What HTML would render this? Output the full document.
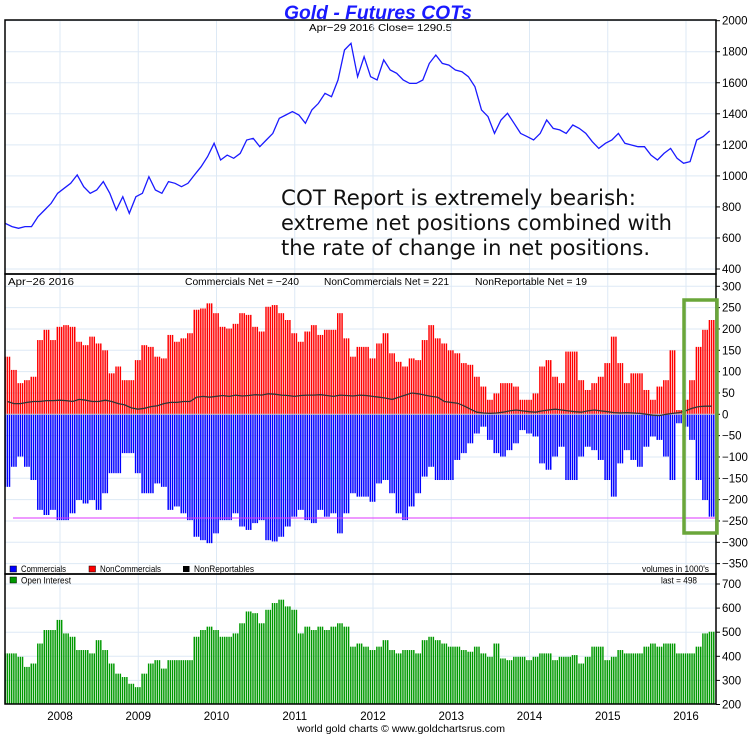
<!DOCTYPE html>
<html><head><meta charset="utf-8"><style>
body{margin:0;background:#fff;}
svg{display:block;font-family:"Liberation Sans",sans-serif;}
</style></head><body>
<svg id="chart" width="751" height="739" viewBox="0 0 751 739" xmlns="http://www.w3.org/2000/svg">
<text x="284" y="19" font-size="19" font-weight="bold" font-style="italic" fill="#1a1aff" textLength="188" lengthAdjust="spacingAndGlyphs">Gold - Futures COTs</text>
<text x="309" y="31" font-size="10.5" textLength="143" lengthAdjust="spacingAndGlyphs">Apr−29  2016    Close= 1290.5</text>
<g id="grid"></g>
<g id="marks"></g>
<g id="frame"></g>
<g id="labels"></g>
<text x="281" y="205" font-size="21" fill="#111" textLength="355" lengthAdjust="spacingAndGlyphs" font-family="DejaVu Sans Condensed, DejaVu Sans, sans-serif">COT Report is extremely bearish:</text>
<text x="281" y="230" font-size="21" fill="#111" textLength="391" lengthAdjust="spacingAndGlyphs" font-family="DejaVu Sans Condensed, DejaVu Sans, sans-serif">extreme net positions combined with</text>
<text x="281" y="255" font-size="21" fill="#111" textLength="369" lengthAdjust="spacingAndGlyphs" font-family="DejaVu Sans Condensed, DejaVu Sans, sans-serif">the rate of change in net positions.</text>
<text x="8" y="285" font-size="10.5" textLength="66" lengthAdjust="spacingAndGlyphs">Apr−26  2016</text>
<text x="185" y="285" font-size="10.5" textLength="114" lengthAdjust="spacingAndGlyphs">Commercials Net = −240</text>
<text x="324" y="285" font-size="10.5" textLength="125" lengthAdjust="spacingAndGlyphs">NonCommercials Net = 221</text>
<text x="475" y="285" font-size="10.5" textLength="112" lengthAdjust="spacingAndGlyphs">NonReportable Net = 19</text>
<g>
<rect x="10" y="566" width="6.5" height="6" fill="#0000ff" stroke="#000" stroke-width="0.5"/>
<text x="21" y="572" font-size="9.5" textLength="45" lengthAdjust="spacingAndGlyphs">Commercials</text>
<rect x="89" y="566" width="6.5" height="6" fill="#ff0000" stroke="#000" stroke-width="0.5"/>
<text x="100" y="572" font-size="9.5" textLength="61" lengthAdjust="spacingAndGlyphs">NonCommercials</text>
<rect x="183" y="566" width="6.5" height="6" fill="#000"/>
<text x="194" y="572" font-size="9.5" textLength="60" lengthAdjust="spacingAndGlyphs">NonReportables</text>
<text x="642" y="572" font-size="9.5" textLength="67" lengthAdjust="spacingAndGlyphs">volumes in 1000's</text>
</g>
<rect x="10" y="577" width="6.5" height="6" fill="#009900" stroke="#000" stroke-width="0.5"/>
<text x="21" y="583.5" font-size="9.5" textLength="50" lengthAdjust="spacingAndGlyphs">Open Interest</text>
<text x="661" y="583.5" font-size="9.5" textLength="36" lengthAdjust="spacingAndGlyphs">last = 498</text>
<text x="297" y="732" font-size="10.5" textLength="208" lengthAdjust="spacingAndGlyphs">world gold charts © www.goldchartsrus.com</text>
</svg>
<script>
// Monthly data, Apr 2007 .. Apr 2016 (109 months)
const startYear = 2007.29;
const priceValues = [694,673,662,673,673,737,780,823,888,920,952,1006,930,888,909,963,888,780,866,759,866,888,995,909,888,963,952,930,952,1006,1059,1124,1210,1102,1134,1113,1145,1231,1242,1188,1231,1274,1371,1392,1414,1392,1339,1425,1467,1532,1510,1618,1811,1854,1639,1768,1639,1618,1747,1682,1661,1618,1596,1596,1618,1725,1779,1725,1714,1682,1671,1639,1575,1425,1382,1274,1360,1403,1339,1274,1253,1231,1274,1360,1306,1296,1274,1328,1306,1274,1220,1177,1210,1231,1274,1210,1199,1188,1188,1134,1102,1145,1177,1113,1081,1092,1231,1253,1290];
const nonCommercials = [135,104,73,80,88,174,198,174,205,209,205,170,162,182,166,150,96,112,80,80,127,162,158,135,131,186,170,178,190,245,248,260,237,205,201,212,237,233,205,194,252,256,237,221,190,170,194,209,186,198,198,237,178,135,158,158,131,166,190,143,123,112,131,127,174,209,178,166,150,143,120,116,88,65,34,49,73,73,65,34,34,49,112,127,88,73,147,147,80,57,73,88,120,182,120,73,96,96,57,34,65,80,150,10,34,80,158,198,221];
const commercials = [-170,-123,-99,-123,-154,-224,-236,-224,-248,-248,-232,-201,-209,-201,-224,-185,-138,-138,-91,-91,-138,-185,-185,-162,-170,-224,-216,-232,-248,-287,-295,-302,-279,-248,-248,-232,-263,-271,-255,-248,-295,-298,-287,-263,-240,-224,-248,-255,-224,-240,-232,-279,-232,-185,-193,-193,-205,-162,-154,-185,-232,-248,-216,-185,-146,-123,-154,-154,-154,-107,-91,-68,-45,-29,-60,-91,-99,-84,-68,-37,-45,-52,-115,-130,-99,-76,-154,-154,-99,-76,-84,-107,-154,-193,-115,-84,-107,-123,-76,-52,-60,-99,-154,-21,-29,-60,-154,-201,-240];
const nonReportables = [30,25,25,28,30,30,32,32,33,32,30,35,33,30,30,33,30,25,22,15,12,14,18,20,25,28,28,30,30,40,42,40,42,44,42,45,43,44,46,45,48,47,45,44,42,44,45,45,46,44,42,45,44,43,45,44,42,40,38,35,40,45,50,48,45,42,40,30,28,26,20,12,5,3,2,3,5,8,10,8,6,5,8,10,12,10,8,6,5,8,10,8,6,4,3,4,3,2,0,-2,-3,0,2,4,8,14,18,19,19];
const openInterest = [412,412,398,356,370,453,509,509,551,495,481,426,426,412,467,426,370,328,314,286,272,328,370,384,349,384,384,384,384,481,509,523,509,481,481,495,537,586,579,537,593,621,635,607,593,495,523,509,523,509,523,537,523,440,453,440,426,440,467,426,412,426,426,412,467,481,467,453,440,440,426,419,440,412,398,453,391,384,398,398,384,398,412,412,384,398,398,405,370,398,440,440,384,398,426,412,412,412,440,453,440,453,453,412,412,412,440,495,502];
const yearTicks = [2008,2009,2010,2011,2012,2013,2014,2015,2016];
const priceTicks = [400,600,800,1000,1200,1400,1600,1800,2000];
const cotTicks = [-350,-300,-250,-200,-150,-100,-50,0,50,100,150,200,250,300];
const oiTicks = [200,300,400,500,600,700];
const commercialsNetLine = -243;

const NS = "http://www.w3.org/2000/svg";
const L = 5, R = 716;
const xT = t => 60 + (t - 2008) * 78.25;
const xM = m => xT(startYear + m / 12);
const yP = v => 269 - (v - 400) * 0.1552;
const yC = v => 414.3 - v * 0.4267;
const yO = v => 704.5 - (v - 200) * 0.241;

function mk(parent, tag, attrs) {
  const e = document.createElementNS(NS, tag);
  for (const k in attrs) e.setAttribute(k, attrs[k]);
  document.getElementById(parent).appendChild(e);
  return e;
}
// grid
yearTicks.forEach(t => {
  [[20, 274], [274, 574], [574, 704]].forEach(([a, b]) => {
    const g = mk('grid', 'line', {x1: xT(t), x2: xT(t), y1: a, y2: b, stroke: '#dde9f5', 'stroke-width': 1});
    
    
  });
  const lb = mk('labels', 'text', {x: xT(t), y: 720, 'font-size': 11.5, 'text-anchor': 'middle'});
  
  
  lb.textContent = t;
});
function hTicks(ticks, yf, name, lo, hi) {
  ticks.forEach(v => {
    const y = yf(v);
    if (y > lo && y < hi) {
      const g = mk('grid', 'line', {x1: L, x2: R, y1: y, y2: y, stroke: '#dde9f5', 'stroke-width': 1});
      
      
    }
    mk('frame', 'line', {x1: R, x2: R + 4, y1: y, y2: y, stroke: '#000', 'stroke-width': 1});
    const lb = mk('labels', 'text', {x: R + 6, y: y + 4, 'font-size': 11.5});
    
    
    lb.textContent = String(v).replace('-', '−');
  });
}
hTicks(priceTicks, yP, 'price', 20, 274);
hTicks(cotTicks, yC, 'cot', 274, 574);
hTicks(oiTicks, yO, 'oi', 574, 704);

// COT bars (3 bars per month)
const step = 6.52 / 3, bw = 1.45;
for (let m = 0; m < nonCommercials.length; m++) {
  for (let k = 0; k < 3; k++) {
    const x = xM(m) + k * step;
    const r = mk('marks', 'rect', {x: x, y: yC(nonCommercials[m]), width: bw, height: yC(0) - yC(nonCommercials[m]), fill: '#ff0000'});
    
    
    const b = mk('marks', 'rect', {x: x, y: yC(0), width: bw, height: yC(commercials[m]) - yC(0), fill: '#0000ff'});
    
    
  }
}
for (let m = 0; m < openInterest.length; m++) {
  for (let k = 0; k < 3; k++) {
    const x = xM(m) + k * step;
    const g = mk('marks', 'rect', {x: x, y: yO(openInterest[m]), width: bw, height: 704 - yO(openInterest[m]), fill: '#009900'});
    
    
  }
}
const zl = mk('marks', 'line', {x1: L, x2: R, y1: yC(0), y2: yC(0), stroke: '#ccc', 'stroke-width': 1});


// nonreportables line
let d = '';
nonReportables.forEach((v, m) => { d += (m ? 'L' : 'M') + (xM(m) + 3).toFixed(1) + ' ' + yC(v).toFixed(1); });
const nr = mk('marks', 'path', {d: d, fill: 'none', stroke: '#333', 'stroke-width': 1.3});


// price line
d = '';
priceValues.forEach((v, m) => { d += (m ? 'L' : 'M') + (xM(m) + 1).toFixed(1) + ' ' + yP(v).toFixed(1); });
const pl = mk('marks', 'path', {d: d, fill: 'none', stroke: '#1a1aff', 'stroke-width': 1.3});


// commercials net reference line
const ml = mk('marks', 'line', {x1: 13, x2: R, y1: yC(commercialsNetLine), y2: yC(commercialsNetLine), stroke: '#dd33ff', 'stroke-width': 1});


// frame
[[20, 254], [274, 300], [574, 130]].forEach(([y, h]) => {
  const f = mk('frame', 'rect', {x: L, y: y, width: R - L, height: h, fill: 'none', stroke: '#000', 'stroke-width': 1.5});
  
  
});
// highlight box
const hb = mk('frame', 'rect', {x: 684, y: 300, width: 33, height: 233, fill: 'none', stroke: '#6aa63a', 'stroke-width': 3.5});


</script>
</body></html>
